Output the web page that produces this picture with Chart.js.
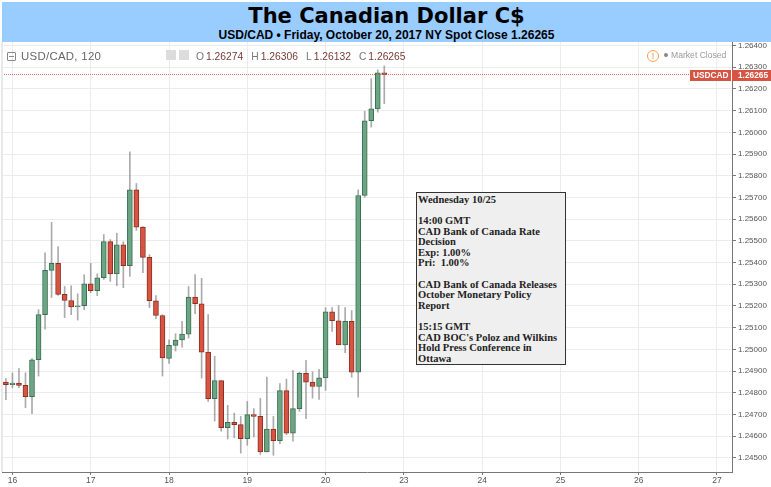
<!DOCTYPE html>
<html>
<head>
<meta charset="utf-8">
<title>USD/CAD</title>
<script src="https://cdn.jsdelivr.net/npm/chart.js@4/dist/chart.umd.js"></script>
<style>
  html, body { margin: 0; padding: 0; background: #fff; }
  #page { position: relative; width: 771px; height: 487px; overflow: hidden; font-family: "Liberation Sans", Arial, sans-serif; }
  #chart { position: absolute; left: 0; top: 0; }
  #band { position: absolute; left: 2px; top: 2px; right: 0; height: 40px; background: #99ccff; text-align: center; color: #000; }
  #band .t { font: bold 21px/25px "DejaVu Sans", sans-serif; margin-top: 2px; }
  #band .s { font: bold 12px/13px "Liberation Sans", sans-serif; }
  #edge { position: absolute; left: 1px; top: 42px; width: 2px; height: 430px; background: #e9e9e9; }
  .lg { position: absolute; white-space: nowrap; }
  #sym { left: 21px; top: 49px; font-size: 11.4px; line-height: 15px; color: #666; letter-spacing: .3px; }
  #minus { left: 7px; top: 52px; width: 7px; height: 7px; border: 1px solid #888; border-radius: 1px; }
  #minus:after { content: ""; position: absolute; left: 1px; right: 1px; top: 3px; height: 1px; background: #888; }
  #ohlc { left: 196px; top: 50px; font-size: 10.3px; line-height: 14px; color: #777; }
  #ohlc b { font-weight: normal; color: #7a3b34; margin-left: 2px; margin-right: 8px; }
  .ic { top: 50px; width: 10px; height: 10px; background: #dcdcdc; }
  #warn { left: 647px; top: 50px; width: 10px; height: 10px; border: 1px solid #f7a25a; border-radius: 50%; font-size: 9px; line-height: 10px; text-align: center; color: #f08a33; }
  #dot { left: 664px; top: 53px; width: 4px; height: 4px; border-radius: 50%; background: #888; }
  #closed { left: 671px; top: 49px; font-size: 8.6px; line-height: 12px; color: #999; }
  #note { position: absolute; left: 416px; top: 192px; width: 148px; height: 171px; background: #efefef; border: 1px solid #333; font: bold 10.5px/10.58px "Liberation Serif", serif; color: #222; padding: 0; }
  #note div { margin-left: 1px; margin-top: 2px; white-space: pre; }
</style>
</head>
<body>
<div id="page">
  <canvas id="chart" width="771" height="487"></canvas>
  <div id="edge"></div>
  <div id="band">
    <div class="t">The Canadian Dollar C$</div>
    <div class="s">USD/CAD • Friday, October 20, 2017 NY Spot Close 1.26265</div>
  </div>
  <div class="lg" id="minus"></div>
  <div class="lg" id="sym">USD/CAD, 120</div>
  <div class="lg ic" style="left:166px"></div>
  <div class="lg ic" style="left:179px"></div>
  <div class="lg" id="ohlc">O<b>1.26274</b>H<b>1.26306</b>L<b>1.26132</b>C<b>1.26265</b></div>
  <div class="lg" id="warn">!</div>
  <div class="lg" id="dot"></div>
  <div class="lg" id="closed">Market Closed</div>
  <div id="note"><div>Wednesday 10/25

14:00 GMT
CAD Bank of Canada Rate
Decision
Exp: 1.00%
Pri:  1.00%

CAD Bank of Canada Releases
October Monetary Policy
Report

15:15 GMT
CAD BOC's Poloz and Wilkins
Hold Press Conference in
Ottawa</div></div>
</div>
<script>
// 2h candles
const opens = [1.24849,1.24837,1.24845,1.24834,1.24782,1.24952,1.25160,1.25364,1.25396,1.25253,
  1.25225,1.25195,1.25201,1.25302,1.25270,1.25330,1.25496,1.25348,1.25482,1.25385,
  1.25735,1.25563,1.25424,1.25224,1.25156,1.24958,1.25018,1.25043,1.25070,1.25241,
  1.25210,1.24987,1.24773,1.24856,1.24639,1.24664,1.24653,1.24588,1.24699,1.24691,
  1.24527,1.24633,1.24579,1.24810,1.24614,1.24727,1.24889,1.24849,1.24829,1.24869,
  1.25173,1.25132,1.25021,1.25129,1.24895,1.25709,1.26053,1.26108,1.26274]
const highs = [1.24865,1.24892,1.24911,1.24892,1.24957,1.25183,1.25445,1.25585,1.25474,1.25290,
  1.25293,1.25256,1.25344,1.25396,1.25348,1.25529,1.25506,1.25535,1.25496,1.25910,
  1.25764,1.25566,1.25436,1.25248,1.25160,1.25044,1.25072,1.25129,1.25290,1.25344,
  1.25327,1.25160,1.24968,1.24856,1.24742,1.24706,1.24691,1.24760,1.24727,1.24774,
  1.24872,1.24691,1.24842,1.24863,1.24903,1.24895,1.24949,1.24897,1.24908,1.25192,
  1.25192,1.25202,1.25192,1.25179,1.25735,1.26097,1.26247,1.26288,1.26306]
const lows = [1.24768,1.24823,1.24823,1.24731,1.24704,1.24877,1.25093,1.25239,1.25248,1.25146,
  1.25160,1.25135,1.25183,1.25261,1.25247,1.25322,1.25313,1.25293,1.25284,1.25336,
  1.25548,1.25353,1.25192,1.25141,1.24877,1.24935,1.24992,1.25010,1.25052,1.25164,
  1.24868,1.24760,1.24670,1.24623,1.24587,1.24593,1.24522,1.24558,1.24596,1.24516,
  1.24527,1.24512,1.24565,1.24607,1.24577,1.24714,1.24681,1.24775,1.24769,1.24811,
  1.25083,1.25021,1.24985,1.24872,1.24780,1.25701,1.26024,1.26093,1.26132]
const closes = [1.24837,1.24845,1.24834,1.24782,1.24952,1.25160,1.25364,1.25396,1.25253,1.25225,
  1.25195,1.25201,1.25302,1.25270,1.25330,1.25496,1.25348,1.25482,1.25385,1.25735,
  1.25563,1.25424,1.25224,1.25156,1.24960,1.25018,1.25043,1.25070,1.25241,1.25210,
  1.24987,1.24773,1.24856,1.24639,1.24664,1.24653,1.24588,1.24699,1.24691,1.24527,
  1.24633,1.24579,1.24810,1.24614,1.24727,1.24889,1.24849,1.24829,1.24869,1.25173,
  1.25132,1.25021,1.25129,1.24895,1.25709,1.26053,1.26108,1.26274,1.26265]

const dayPositions = [1, 13, 25, 37, 49, 61, 73, 85, 97, 109]
const dayLabels = ['16', '17', '18', '19', '20', '23', '24', '25', '26', '27']
const priceTicks = [1.245,1.246,1.247,1.248,1.249,1.250,1.251,1.252,1.253,1.254,
  1.255,1.256,1.257,1.258,1.259,1.260,1.261,1.262,1.263,1.264]
const lastPrice = 1.26265

const UP = '#6ba583', UP_EDGE = '#3a6f52', DOWN = '#d75442', DOWN_EDGE = '#8a2f22'
const isUp = i => closes[i] >= opens[i]

const priceTag = {
  id: 'priceTag',
  afterDraw(chart) {
    const { ctx, scales: { y }, chartArea } = chart
    const py = Math.floor(y.getPixelForValue(lastPrice))
    ctx.save()
    ctx.strokeStyle = 'rgba(215,84,66,.8)'
    ctx.setLineDash([1, 1])
    ctx.beginPath()
    ctx.moveTo(chartArea.left, py + 0.5)
    ctx.lineTo(chartArea.right, py + 0.5)
    ctx.stroke()
    ctx.setLineDash([])
    ctx.fillStyle = '#d75442'
    ctx.fillRect(690, py - 4, 41, 11)
    ctx.fillRect(732, py - 4, 39, 11)
    ctx.fillStyle = '#fff'
    ctx.font = 'bold 8.3px "Liberation Sans"'
    ctx.textBaseline = 'middle'
    ctx.fillText('USDCAD', 693, py + 2)
    ctx.fillText(lastPrice.toFixed(5), 738, py + 2)
    ctx.restore()
  }
}

new Chart(document.getElementById('chart').getContext('2d'), {
  type: 'bar',
  data: {
    datasets: [
      {
        label: 'wick',
        order: 2,
        barThickness: 1,
        backgroundColor: 'rgba(115,115,117,.6)',
        data: opens.map((o, i) => ({ x: i, y: [lows[i], highs[i]] }))
      },
      {
        label: 'body',
        order: 1,
        barThickness: 5,
        borderWidth: 1,
        borderSkipped: false,
        backgroundColor: opens.map((o, i) => isUp(i) ? UP : DOWN),
        borderColor: opens.map((o, i) => isUp(i) ? UP_EDGE : DOWN_EDGE),
        data: opens.map((o, i) => ({ x: i, y: [o, closes[i]] }))
      }
    ]
  },
  options: {
    responsive: false,
    animation: false,
    layout: { padding: { left: 2, top: 42, right: 0, bottom: 0 } },
    datasets: { bar: { grouped: false } },
    plugins: { legend: { display: false }, tooltip: { enabled: false } },
    scales: {
      x: {
        type: 'linear',
        offset: false,
        min: -0.6,
        max: 111.3,
        afterFit: s => { s.height = 15 },
        afterBuildTicks: s => { s.ticks = dayPositions.map(v => ({ value: v })) },
        border: { color: '#777', width: 1 },
        grid: { offset: false, color: '#ececec', lineWidth: 1, tickColor: '#777', tickLength: 3 },
        ticks: {
          color: '#555',
          font: { family: 'Liberation Sans', size: 8.5 },
          padding: 1,
          maxRotation: 0,
          autoSkip: false,
          callback: v => dayLabels[dayPositions.indexOf(v)]
        }
      },
      y: {
        position: 'right',
        min: 1.24435,
        max: 1.26416,
        afterFit: s => { s.width = 39 },
        afterBuildTicks: s => { s.ticks = priceTicks.map(v => ({ value: v })) },
        border: { color: '#777', width: 1 },
        grid: { color: '#ececec', lineWidth: 1, tickColor: '#777', tickLength: 4 },
        ticks: {
          color: '#555',
          font: { family: 'Liberation Sans', size: 8 },
          padding: 2,
          autoSkip: false,
          callback: v => v.toFixed(5)
        }
      }
    }
  },
  plugins: [priceTag]
})
</script>
</body>
</html>
